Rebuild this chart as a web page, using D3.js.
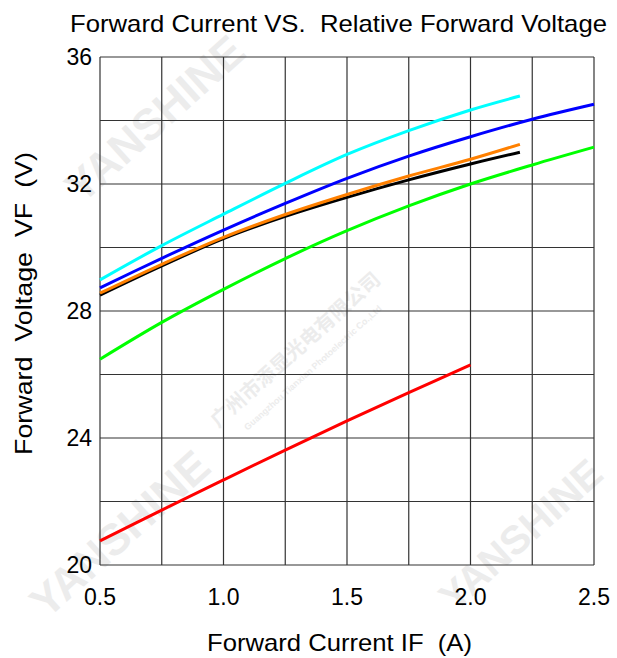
<!DOCTYPE html>
<html><head><meta charset="utf-8">
<script src="https://cdn.jsdelivr.net/npm/d3@7"></script>
<style>body{margin:0;background:#fff}svg{display:block}</style>
</head><body>
<script>
const currents = [0.5, 0.75, 1.0, 1.25, 1.5, 1.75, 2.0, 2.2, 2.25, 2.5];
const cyanV   = [28.98, 30.06, 31.05, 32.02, 32.93, 33.68, 34.33, 34.77];
const blueV   = [28.73, 29.66, 30.55, 31.39, 32.18, 32.88, 33.49, null, 34.04, 34.51];
const orangeV = [28.56, 29.47, 30.32, 31.04, 31.67, 32.25, 32.78, 33.25];
const blackV  = [28.50, 29.42, 30.28, 30.98, 31.58, 32.13, 32.63, 33.00];
const greenV  = [26.48, 27.64, 28.68, 29.65, 30.53, 31.31, 32.00, null, 32.60, 33.16];
const redV    = [20.76, 21.73, 22.68, 23.62, 24.54, 25.43, 26.30];
const xTicks = [0.5, 1.0, 1.5, 2.0, 2.5];
const yTicks = [20, 24, 28, 32, 36];
const xGrid = [0.5, 0.75, 1.0, 1.25, 1.5, 1.75, 2.0, 2.25, 2.5];
const yGrid = [20, 22, 24, 26, 28, 30, 32, 34, 36];
const seriesNames = ["black", "orange", "green", "blue", "cyan", "red"];
const seriesColors = ["#000000", "#ff8000", "#00ff00", "#0000ff", "#00ffff", "#ff0000"];
const seriesValues = [blackV, orangeV, greenV, blueV, cyanV, redV];

const W = 617, H = 658;
const svg = d3.select("body").append("svg").attr("width", W).attr("height", H);
const x = d3.scaleLinear().domain([0.5, 2.5]).range([100, 594]);
const y = d3.scaleLinear().domain([20, 36]).range([565, 57]);

// watermarks
const wm = svg.append("g").attr("fill", "#ececec").attr("font-family", "Liberation Sans, Arial, sans-serif").attr("font-weight", "bold");
wm.append("text").attr("transform", "translate(165,130) rotate(-42)").attr("font-size", 44).attr("text-anchor", "middle").text("YANSHINE");
wm.append("text").attr("transform", "translate(130,545) rotate(-42)").attr("font-size", 44).attr("text-anchor", "middle").text("YANSHINE");
wm.append("text").attr("transform", "translate(530,545) rotate(-42)").attr("font-size", 40).attr("text-anchor", "middle").text("YANSHINE");
wm.append("text").attr("transform", "translate(300,355) rotate(-42)").attr("font-size", 20).attr("text-anchor", "middle")
  .attr("font-family", "Noto Sans CJK SC").text("广州市添显光电有限公司");
wm.append("text").attr("transform", "translate(315,370) rotate(-42)").attr("font-size", 9).attr("text-anchor", "middle").text("Guangzhou Tianxian Photoelectric Co.,Ltd");

// grid
const g = svg.append("g");
g.selectAll(".vg").data(xGrid).join("line")
  .attr("x1", d => x(d)).attr("x2", d => x(d)).attr("y1", y(20)).attr("y2", y(36))
  .attr("stroke", "#333").attr("stroke-width", 1.2);
g.selectAll(".hg").data(yGrid).join("line")
  .attr("y1", d => y(d)).attr("y2", d => y(d)).attr("x1", x(0.5)).attr("x2", x(2.5))
  .attr("stroke", "#333").attr("stroke-width", 1.2);

// lines
const line = d3.line().x(d => x(d[0])).y(d => y(d[1])).curve(d3.curveCatmullRom.alpha(0.5));
seriesValues.forEach((vals, i) => {
  const pts = vals.map((v, j) => [currents[j], v]).filter(p => p[1] != null);
  svg.append("path").datum(pts).attr("d", line).attr("fill", "none")
    .attr("stroke", seriesColors[i]).attr("stroke-width", 3).attr("class", "series-" + seriesNames[i]);
});

const font = "Liberation Sans, Arial, sans-serif";
// tick labels
svg.selectAll(".xt").data(xTicks).join("text")
  .attr("x", d => x(d)).attr("y", 605).attr("text-anchor", "middle")
  .attr("font-family", font).attr("font-size", 23).text(d => d.toFixed(1));
svg.selectAll(".yt").data(yTicks).join("text")
  .attr("x", 92).attr("y", d => y(d) + 8).attr("text-anchor", "end")
  .attr("font-family", font).attr("font-size", 23).text(d => d);

// titles
svg.append("text").attr("x", 70).attr("y", 32)
  .attr("font-family", font).attr("font-size", 24)
  .attr("textLength", 537).attr("lengthAdjust", "spacingAndGlyphs")
  .style("white-space", "pre").text("Forward Current VS.  Relative Forward Voltage");
svg.append("text").attr("x", 207).attr("y", 651)
  .attr("font-family", font).attr("font-size", 24)
  .attr("textLength", 265).attr("lengthAdjust", "spacingAndGlyphs")
  .style("white-space", "pre").text("Forward Current IF  (A)");
svg.append("text").attr("transform", "translate(32,455) rotate(-90)")
  .attr("font-family", font).attr("font-size", 24)
  .attr("textLength", 303).attr("lengthAdjust", "spacingAndGlyphs")
  .style("white-space", "pre").text("Forward  Voltage  VF  (V)");
</script>
</body></html>
